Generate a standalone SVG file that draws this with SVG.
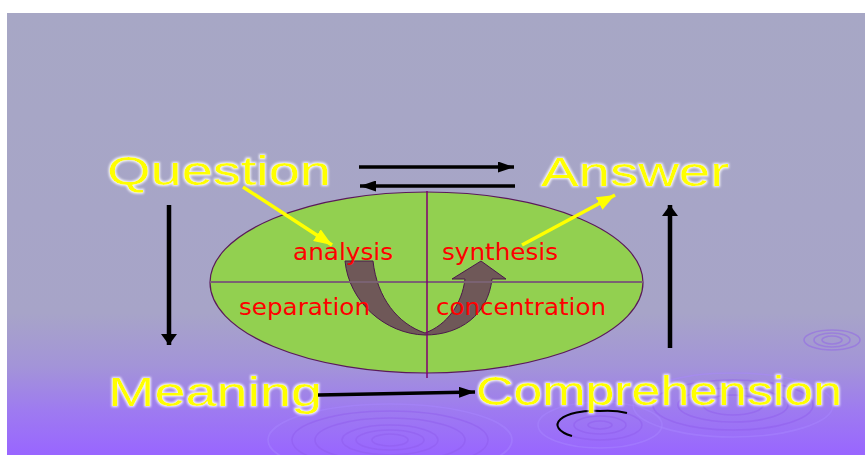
<svg xmlns="http://www.w3.org/2000/svg" width="865" height="455" viewBox="0 0 865 455">
<defs>
<linearGradient id="bg" x1="0" y1="13" x2="0" y2="454" gradientUnits="userSpaceOnUse">
<stop offset="0" stop-color="#a7a7c5"/>
<stop offset="0.68" stop-color="#a7a4c8"/>
<stop offset="0.8" stop-color="#a394d8"/>
<stop offset="0.9" stop-color="#9e7bf0"/>
<stop offset="1" stop-color="#9966ff"/>
</linearGradient>
<filter id="glow" x="-10%" y="-30%" width="120%" height="160%">
<feMorphology in="SourceAlpha" operator="dilate" radius="0.8" result="d"/>
<feGaussianBlur in="d" stdDeviation="1.1" result="b"/>
<feFlood flood-color="#ffffff" flood-opacity="0.85"/>
<feComposite in2="b" operator="in" result="g"/>
<feMerge><feMergeNode in="g"/><feMergeNode in="SourceGraphic"/></feMerge>
</filter>
<marker id="ah" viewBox="0 0 16 11" refX="16" refY="5.5" markerWidth="16" markerHeight="11" markerUnits="userSpaceOnUse" orient="auto">
<path d="M0,0 L16,5.5 L0,11 Z" fill="#000"/>
</marker>
<marker id="av" viewBox="0 0 11 16" refX="11" refY="8" markerWidth="11" markerHeight="16" markerUnits="userSpaceOnUse" orient="auto">
<path d="M0,0 L11,8 L0,16 Z" fill="#000"/>
</marker>
<marker id="ay" viewBox="0 0 18 14" refX="18" refY="7" markerWidth="18" markerHeight="14" markerUnits="userSpaceOnUse" orient="auto">
<path d="M0,0 L18,7 L0,14 Z" fill="#ffff00"/>
</marker>
<style>
.big{font-family:"Liberation Sans",Arial,sans-serif;font-size:40px;fill:#ffff00;filter:url(#glow)}
.lbl{font-family:"DejaVu Sans",Verdana,sans-serif;font-size:23px;fill:#ff0000}
.blk{stroke:#000;fill:none}
.yel{stroke:#ffff00;stroke-width:3.5;fill:none;marker-end:url(#ay)}
.rp{fill:none;stroke:#8d5cec;stroke-width:1.6;opacity:0.45}
.rl{fill:none;stroke:#a888ff;stroke-width:1.6;opacity:0.45}
</style>
</defs>
<rect x="7" y="13" width="858" height="442" fill="url(#bg)"/>
<g id="ripples">
<ellipse class="rl" cx="390" cy="440" rx="122" ry="36"/>
<ellipse class="rp" cx="390" cy="440" rx="98" ry="29"/>
<ellipse class="rp" cx="390" cy="440" rx="75" ry="22"/>
<ellipse class="rp" cx="390" cy="440" rx="48" ry="15" stroke-width="3"/>
<ellipse class="rp" cx="390" cy="440" rx="34" ry="10" stroke-width="3"/>
<ellipse class="rp" cx="390" cy="440" rx="18" ry="6" stroke-width="3"/>
<ellipse class="rl" cx="600" cy="425" rx="62" ry="23"/>
<ellipse class="rp" cx="600" cy="425" rx="42" ry="15"/>
<ellipse class="rp" cx="600" cy="425" rx="26" ry="9"/>
<ellipse class="rp" cx="600" cy="425" rx="12" ry="4"/>
<ellipse class="rl" cx="733" cy="405" rx="100" ry="32"/>
<ellipse class="rp" cx="733" cy="405" rx="80" ry="25"/>
<ellipse class="rp" cx="733" cy="405" rx="55" ry="17"/>
<ellipse class="rp" cx="733" cy="405" rx="30" ry="10" stroke-width="3"/>
<ellipse class="rp" cx="832" cy="340" rx="28" ry="10"/>
<ellipse class="rp" cx="832" cy="340" rx="18" ry="7"/>
<ellipse class="rp" cx="832" cy="340" rx="10" ry="4" stroke-width="2.5"/>
<path d="M572,436 A36,14 0 0 1 600,411 A36,14 0 0 1 627,413" fill="none" stroke="#000" stroke-width="2"/>
</g>
<g id="ellipse">
<ellipse cx="426.5" cy="282.5" rx="216.5" ry="90.5" fill="#92d050" stroke="#5a1a5a" stroke-width="1.2"/>
</g>
<g id="uarrow">
<path d="M345,261 L373,261 C377,298 398,324 425,333 C447,325 462,304 465,279 L452,279 L481,261 L506,279 L492,279 C488,315 460,335 425,335 C385,334 349,302 345,261 Z" fill="#6f5858" stroke="#4b1a4b" stroke-width="1"/>
</g>
<g id="axes">
<line x1="210" y1="282" x2="643" y2="282" stroke="#7a6272" stroke-width="2"/>
<line x1="427" y1="191" x2="427" y2="378" stroke="#800070" stroke-width="1.5"/>
</g>
<g id="question"><text class="big" x="107" y="185" textLength="224" lengthAdjust="spacingAndGlyphs">Question</text></g>
<g id="answer"><text class="big" x="541" y="186" textLength="188" lengthAdjust="spacingAndGlyphs">Answer</text></g>
<g id="meaning"><text class="big" x="108" y="406" textLength="214" lengthAdjust="spacingAndGlyphs">Meaning</text></g>
<g id="comprehension"><text class="big" x="476" y="405" textLength="366" lengthAdjust="spacingAndGlyphs">Comprehension</text></g>
<g id="analysis"><text class="lbl" x="293" y="260" textLength="100" lengthAdjust="spacingAndGlyphs">analysis</text></g>
<g id="synthesis"><text class="lbl" x="442" y="260" textLength="116" lengthAdjust="spacingAndGlyphs">synthesis</text></g>
<g id="separation"><text class="lbl" x="239" y="315" textLength="131" lengthAdjust="spacingAndGlyphs">separation</text></g>
<g id="concentration"><text class="lbl" x="436" y="315" textLength="170" lengthAdjust="spacingAndGlyphs">concentration</text></g>
<g id="connectors">
<line class="blk" x1="359" y1="167" x2="514" y2="167" stroke-width="3.5" marker-end="url(#ah)"/>
<line class="blk" x1="515" y1="186" x2="360" y2="186" stroke-width="3.5" marker-end="url(#ah)"/>
<line class="blk" x1="169" y1="205" x2="169" y2="345" stroke-width="4.5" marker-end="url(#av)"/>
<line class="blk" x1="670" y1="348" x2="670" y2="205" stroke-width="4.5" marker-end="url(#av)"/>
<line class="blk" x1="318" y1="395" x2="475" y2="392" stroke-width="3.5" marker-end="url(#ah)"/>
<line class="yel" x1="243" y1="187" x2="332" y2="245"/>
<line class="yel" x1="522" y1="245" x2="615" y2="195"/>
</g>
</svg>
